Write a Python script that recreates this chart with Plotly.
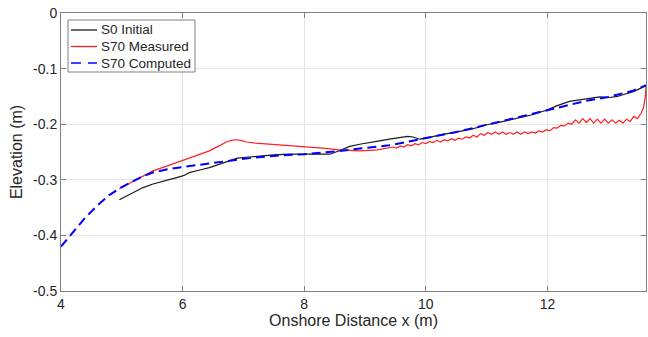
import plotly.graph_objects as go

# S0 Initial (black)
s0_x = [4.96, 5.1, 5.25, 5.35, 5.5, 5.65, 5.78, 5.9, 6.0, 6.05, 6.11, 6.2, 6.3, 6.44, 6.6, 6.77,
        6.9, 7.1, 7.3, 7.5, 7.75, 8.0, 8.2, 8.42, 8.5, 8.63, 8.75, 8.91, 9.05, 9.24, 9.4, 9.57,
        9.7, 9.79, 9.9, 10.0, 10.15, 10.3, 10.45, 10.6, 10.75, 10.88, 11.0, 11.15, 11.32, 11.54,
        11.75, 11.98, 12.15, 12.36, 12.58, 12.75, 12.86, 13.02, 13.15, 13.24, 13.4, 13.5, 13.62]
s0_y = [-0.336, -0.328, -0.319, -0.314, -0.308, -0.303, -0.299, -0.296, -0.293, -0.291, -0.287,
        -0.285, -0.282, -0.278, -0.272, -0.265, -0.261, -0.259, -0.257, -0.255, -0.254, -0.254,
        -0.254, -0.254, -0.251, -0.245, -0.240, -0.236, -0.233, -0.230, -0.227, -0.224, -0.222,
        -0.223, -0.227, -0.225, -0.221, -0.218, -0.215, -0.212, -0.209, -0.205, -0.201, -0.198,
        -0.194, -0.189, -0.183, -0.175, -0.167, -0.159, -0.155, -0.152, -0.151, -0.152, -0.150,
        -0.147, -0.142, -0.137, -0.131]

# S70 Measured (red)
s70m_x = [4.96, 5.2, 5.51, 5.75, 6.0, 6.2, 6.44, 6.6, 6.72, 6.8, 6.88, 6.95, 7.05, 7.2, 7.48,
          7.75, 8.0, 8.3, 8.58, 8.91, 9.2, 9.40, 9.46, 9.52, 9.58, 9.64, 9.70, 9.76, 9.82, 9.88,
          9.94, 10.00, 10.06, 10.12, 10.18, 10.24, 10.30, 10.36, 10.42, 10.48, 10.54, 10.60,
          10.66, 10.72, 10.78, 10.84, 10.90, 10.96, 11.02, 11.08, 11.14, 11.20, 11.26, 11.32,
          11.38, 11.44, 11.50, 11.56, 11.62, 11.68, 11.74, 11.80, 11.86, 11.92, 11.98, 12.04,
          12.10, 12.16, 12.22, 12.28, 12.34, 12.40, 12.46, 12.52, 12.58, 12.64, 12.70, 12.76,
          12.82, 12.88, 12.94, 13.00, 13.06, 13.12, 13.18, 13.24, 13.30, 13.36, 13.42, 13.48,
          13.54, 13.58, 13.61, 13.62]
s70m_y = [-0.316, -0.302, -0.284, -0.275, -0.265, -0.257, -0.248, -0.239, -0.232, -0.229,
          -0.228, -0.229, -0.232, -0.234, -0.236, -0.238, -0.241, -0.243, -0.246, -0.248,
          -0.246, -0.243, -0.241, -0.243, -0.239, -0.241, -0.237, -0.239, -0.235, -0.237,
          -0.233, -0.235, -0.231, -0.233, -0.229, -0.232, -0.228, -0.230, -0.226, -0.229,
          -0.225, -0.227, -0.223, -0.225, -0.220, -0.223, -0.217, -0.220, -0.215, -0.218,
          -0.214, -0.218, -0.214, -0.218, -0.215, -0.218, -0.214, -0.218, -0.214, -0.217,
          -0.214, -0.216, -0.212, -0.214, -0.210, -0.212, -0.206, -0.207, -0.202, -0.203,
          -0.198, -0.200, -0.192, -0.198, -0.190, -0.197, -0.190, -0.198, -0.191, -0.198,
          -0.191, -0.198, -0.192, -0.198, -0.193, -0.198, -0.191, -0.195, -0.186, -0.190,
          -0.180, -0.170, -0.150, -0.132]

# S70 Computed (blue dashed)
s70c_x = [4.0, 4.2, 4.4, 4.6, 4.8, 5.0, 5.13, 5.3, 5.51, 5.75, 6.0, 6.2, 6.44, 6.6, 6.77, 7.1,
          7.5, 8.0, 8.5, 9.0, 9.4, 10.0, 10.5, 11.0, 11.38, 11.98, 12.3, 12.64, 13.0, 13.19,
          13.4, 13.62]
s70c_y = [-0.420, -0.393, -0.368, -0.346, -0.327, -0.313, -0.306, -0.296, -0.287, -0.281,
          -0.277, -0.274, -0.271, -0.268, -0.265, -0.261, -0.257, -0.254, -0.249, -0.243,
          -0.238, -0.225, -0.214, -0.201, -0.191, -0.174, -0.166, -0.158, -0.151, -0.146,
          -0.140, -0.130]

series_names = ["S0 Initial", "S70 Measured", "S70 Computed"]
series_colors = ["#1a1a1a", "#ff2020", "#0000ff"]
series_widths = [1.2, 1.2, 2]
series_dash = ["solid", "solid", "9px,5px"]

x_ticks = [4, 6, 8, 10, 12]
y_ticks = [0, -0.1, -0.2, -0.3, -0.4, -0.5]
y_tick_text = ["0", "-0.1", "-0.2", "-0.3", "-0.4", "-0.5"]

W, H = 648, 337
ML, MR, MT, MB = 61, 2, 13, 46
PW, PH = W - ML - MR, H - MT - MB


def px2paper(px, py):
    return (px - ML) / PW, 1 - (py - MT) / PH


fig = go.Figure()
for xs, ys, nm, c, w, d in zip([s0_x, s70m_x, s70c_x], [s0_y, s70m_y, s70c_y],
                               series_names, series_colors, series_widths, series_dash):
    fig.add_trace(go.Scatter(x=xs, y=ys, mode="lines", name=nm, showlegend=False,
                             line=dict(color=c, width=w, dash=d)))

font = "Liberation Sans, Arial, Helvetica, sans-serif"
axis_common = dict(
    showline=True, linecolor="#808080", linewidth=1, mirror="ticks",
    ticks="inside", ticklen=5, tickcolor="#808080",
    showgrid=True, gridcolor="#e4e4e4", gridwidth=1, zeroline=False,
    tickfont=dict(family=font, size=14, color="#262626"),
)
fig.update_xaxes(range=[4, 13.62], tickvals=x_ticks,
                 title=dict(text="Onshore Distance x (m)", font=dict(family=font, size=16, color="#262626"), standoff=4),
                 **axis_common)
fig.update_yaxes(range=[-0.5, 0], tickvals=y_ticks, ticktext=y_tick_text,
                 title=dict(text="Elevation (m)", font=dict(family=font, size=16, color="#262626"), standoff=6),
                 **axis_common)

# Legend box (MATLAB style), drawn in paper coordinates
shapes = []
annotations = []
x0, y0 = px2paper(68, 20)
x1, y1 = px2paper(195, 72)
shapes.append(dict(type="rect", xref="paper", yref="paper", x0=x0, x1=x1, y0=y1, y1=y0,
                   line=dict(color="#808080", width=1), fillcolor="white", layer="above"))
for i, (nm, c, d) in enumerate(zip(series_names, series_colors, series_dash)):
    ry = 30 + i * 16.5
    lx0, ly = px2paper(71, ry)
    lx1, _ = px2paper(97, ry)
    shapes.append(dict(type="line", xref="paper", yref="paper", x0=lx0, x1=lx1, y0=ly, y1=ly,
                       line=dict(color=c, width=1.3, dash="10px,7px" if d != "solid" else "solid"),
                       layer="above"))
    tx, ty = px2paper(99, ry)
    annotations.append(dict(text=nm, xref="paper", yref="paper", x=tx, y=ty, xanchor="left",
                            yanchor="middle", showarrow=False,
                            font=dict(family=font, size=13.5, color="#262626")))

fig.update_layout(
    width=W, height=H,
    margin=dict(l=ML, r=MR, t=MT, b=MB),
    paper_bgcolor="white", plot_bgcolor="white",
    showlegend=False,
    shapes=shapes, annotations=annotations,
)

fig.write_html("out.html")
